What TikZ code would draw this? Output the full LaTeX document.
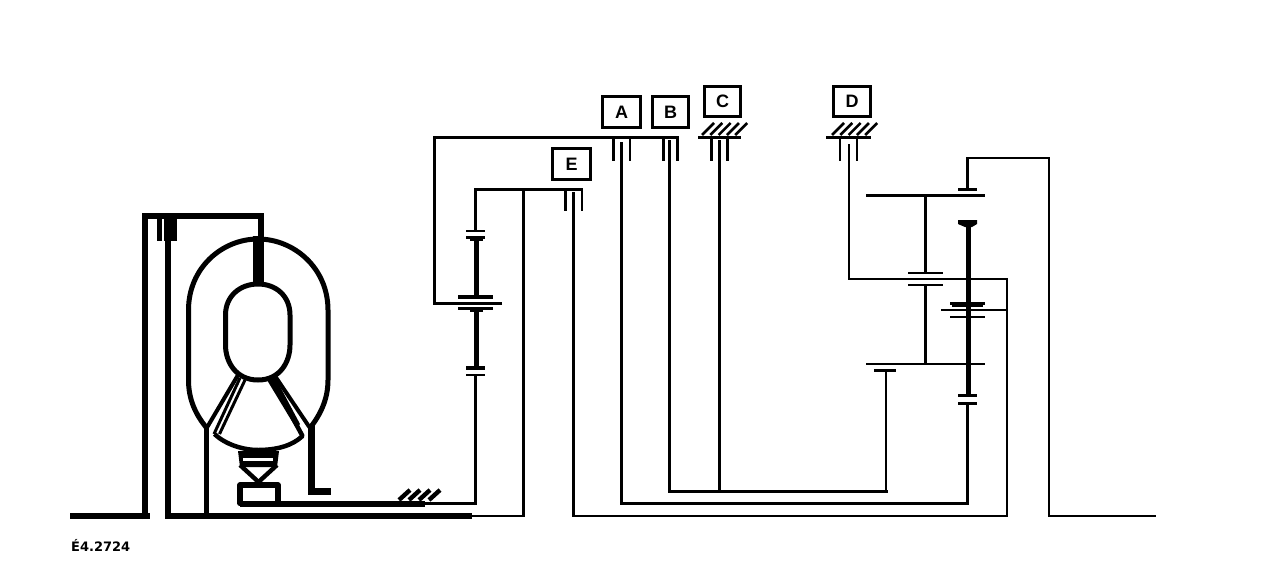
\documentclass[tikz,border=0pt]{standalone}
\usepackage{fontspec}
\setmainfont{Liberation Sans}
\newfontfamily\codefont{DejaVu Sans}
\tikzset{
  x=1pt,y=-1pt,
  shaft/.style={draw=black,line width=3pt,line cap=butt,line join=miter},
  thinshaft/.style={draw=black,line width=2.2pt,line cap=butt,line join=miter},
  heavy/.style={draw=black,line width=6pt,line cap=butt,line join=miter},
  heavier/.style={draw=black,line width=5.4pt,line cap=butt,line join=miter},
  wall/.style={draw=black,line width=5pt,line cap=butt,line join=round},
  hatchline/.style={draw=black,line width=2.6pt,line cap=butt},
  labelbox/.style={draw=black,line width=2.6pt,fill=white,inner sep=0pt,font=\bfseries\fontsize{18}{18}\selectfont}
}
\newcommand{\hatches}[4]{% x0, y bottom, n, dx
  \foreach \i in {1,...,#3}{\draw[hatchline] ({#1+(\i-1)*#4},#2) -- ++(12,-12);}}
\begin{document}
\begin{tikzpicture}
\useasboundingbox[fill=white] (0,0) rectangle (1280,574);

% --- torque converter: frame and housing ---
\draw[heavy] (70,516) -- (150,516);
\draw[heavy] (145,519) -- (145,216) -- (261,216) -- (261,284);
\fill (253,236) rectangle (264,284);
\fill (157,218) rectangle (162,241);
\fill (164,219) rectangle (177,241);
\draw[heavy] (167.5,216) -- (167.5,516) -- (472,516);
\draw[thinshaft] (472,516) -- (525,516);
\draw[wall] (206.7,428) .. controls (196,415) and (188.5,400) .. (188.5,380)
  -- (188.5,310) .. controls (188.5,268) and (222,239) .. (258,239)
  .. controls (294,239) and (328,268) .. (328,310) -- (328,380)
  .. controls (328,400) and (320,415) .. (310,428);
\draw[wall] (258,284) .. controls (240,284) and (225.5,296) .. (225.5,315) -- (225.5,345)
  .. controls (225.5,362) and (236,380) .. (258,380)
  .. controls (280,380) and (290,362) .. (290,345) -- (290,315)
  .. controls (290,296) and (276,284) .. (258,284);
\draw[line width=4pt] (206.7,428) -- (238,375);
\draw[line width=4pt] (310,428) -- (275,376);
% cone
\draw[line width=3pt] (214,434) -- (240,378);
\draw[line width=3pt] (219.5,434) -- (245,380);
\draw[line width=4.5pt,line join=round] (214.5,434) .. controls (226,445) and (244,450) .. (258,450)
  .. controls (276,450) and (292,446) .. (302.5,436) -- (273,381);
\fill (267,380) -- (275,377) -- (300,424) -- (296,428) -- cycle;
\draw[heavier] (206.7,426) -- (206.7,516);
\draw[line width=6.2pt,line join=miter] (311.5,426) -- (311.5,491.5) -- (331,491.5);
% turbine foot
\fill (238,451) -- (279,451) -- (277,467) -- (240,467) -- cycle;
\fill[white] (243,458) rectangle (273,461);
\draw[line width=4.4pt,line join=miter] (240,465) -- (258.5,482);
\draw[line width=4.4pt,line join=miter] (277,465) -- (258.5,482);
\draw[line width=5.6pt,line join=round] (240,485) rectangle (278,503.5);
\draw[heavy] (240,503.5) -- (425,503.5);
\draw[shaft] (425,503.5) -- (477,503.5);
\foreach \i in {0,1,2,3}{\draw[line width=4.4pt] ({399+\i*10},500) -- ++(11,-10);}

% --- first planetary set ---
\draw[shaft] (475.5,505) -- (475.5,374);
\fill (466,374) rectangle (485,376);
\fill (466,366) rectangle (485,369.5);
\draw[heavier] (476.5,311) -- (476.5,366);
\fill (458,307) rectangle (493,310);
\fill (470,310) rectangle (483,312);
\fill (458,294.5) rectangle (493,299);
\draw[heavier] (476.5,240) -- (476.5,295);
\fill (466,236) rectangle (485,239);
\fill (470,239) rectangle (483,241);
\fill (466,230) rectangle (485,232);
\draw[shaft] (475.5,230) -- (475.5,189.5) -- (583,189.5);
\draw[thinshaft] (582,188) -- (582,211);
\draw[shaft] (565.5,189) -- (565.5,211);
\draw[shaft] (523.5,189) -- (523.5,517);
\draw[shaft] (502,303.5) -- (434,303.5) -- (434,137.5) -- (679,137.5);

% --- clutches A, B, C, D, E ---
\draw[shaft] (613.5,137) -- (613.5,160.5);
\draw[thinshaft] (630,137) -- (630,160.5);
\draw[shaft] (663.5,137) -- (663.5,160.5);
\draw[shaft] (677.5,137) -- (677.5,160.5);
\draw[shaft] (621.5,142) -- (621.5,503.5);
\draw[shaft] (669.5,140) -- (669.5,491.5);
\draw[shaft] (719.5,140) -- (719.5,491.5);
\draw[shaft] (573.5,192) -- (573.5,517);
\draw[thinshaft] (572,516) -- (1008,516);
% C ground
\draw[shaft] (698,137.5) -- (741,137.5);
\hatches{702}{135}{5}{8.3}
\draw[shaft] (711.5,137) -- (711.5,160.5);
\draw[shaft] (727.5,137) -- (727.5,160.5);
% D ground
\draw[shaft] (826,137.5) -- (871,137.5);
\hatches{832}{135}{5}{8.3}
\draw[thinshaft] (840,137) -- (840,160.5);
\draw[thinshaft] (857,137) -- (857,160.5);
\draw[thinshaft] (849,144) -- (849,279) -- (1007,279) -- (1007,516);
\draw[thinshaft] (941,310) -- (1007,310);

% --- lower bus lines ---
\draw[shaft] (620,503.5) -- (969,503.5);
\draw[shaft] (668,491.5) -- (887.5,491.5);
\draw[thinshaft] (886,491.5) -- (886,371);

% --- second planetary set ---
\fill (866,194) rectangle (985,197);
\fill (866,363) rectangle (985,365);
\draw[shaft] (925.5,196) -- (925.5,273);
\draw[shaft] (925.5,285) -- (925.5,364);
\fill (908,272) rectangle (943,274);
\fill (908,284) rectangle (943,286);
\fill (958,188) rectangle (977,191);
\draw[shaft] (967.5,190) -- (967.5,157);
\draw[thinshaft] (966,158) -- (1049,158) -- (1049,516) -- (1156,516);
\fill (874,369) rectangle (896,372);
\draw[heavier] (968.5,222) -- (968.5,396);
\fill (958,220) -- (977,220) -- (977,224) -- (972,227) -- (965,227) -- (958,224) -- cycle;
\fill (950,302) rectangle (985,305);
\fill (952,305) rectangle (983,307);
\fill (950,315.5) rectangle (985,318);
\fill (958,394) rectangle (977,397);
\fill (958,402) rectangle (977,405);
\draw[shaft] (967.5,402) -- (967.5,505);

% --- labels ---
\node[labelbox,minimum width=38pt,minimum height=31pt] (boxA) at (621.5,112) {A};
\node[labelbox,minimum width=36pt,minimum height=31pt] (boxB) at (670.5,112) {B};
\node[labelbox,minimum width=36pt,minimum height=30pt] (boxC) at (722.5,101.5) {C};
\node[labelbox,minimum width=37pt,minimum height=30pt] (boxD) at (852,101.5) {D};
\node[labelbox,minimum width=38pt,minimum height=31pt] (boxE) at (571.5,164) {E};
\node[anchor=west,inner sep=0pt,font=\codefont\bfseries\fontsize{13}{13}\selectfont] (code) at (71,545) {É4.2724};
\end{tikzpicture}
\end{document}
